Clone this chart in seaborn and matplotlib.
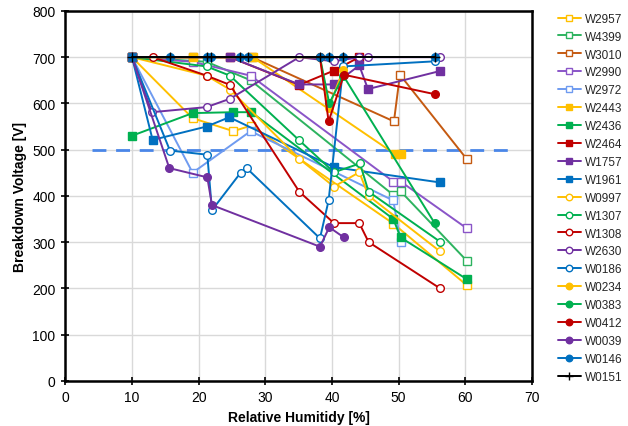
import matplotlib
matplotlib.use("Agg")
import matplotlib.pyplot as plt
import seaborn as sns
import pandas as pd

sns.set_theme(style="white")
plt.rcParams['font.family'] = ['Liberation Sans', 'DejaVu Sans']

names = ["W2957", "W4399", "W3010", "W2990", "W2972", "W2443", "W2436", "W2464",
         "W1757", "W1961", "W0997", "W1307", "W1308", "W2630", "W0186", "W0234",
         "W0383", "W0412", "W0039", "W0146", "W0151"]

x_W2957 = [10, 19.1, 25.2, 27.9, 49.2, 60.2]
y_W2957 = [700, 568, 540, 552, 340, 207]
x_W4399 = [10, 21.2, 27.8, 49.2, 50.3, 60.2]
y_W4399 = [700, 690, 650, 402, 410, 260]
x_W3010 = [10, 19.1, 28.0, 49.3, 50.2, 60.2]
y_W3010 = [700, 700, 700, 561, 662, 480]
x_W2990 = [10, 19.1, 27.8, 49.2, 50.3, 60.2]
y_W2990 = [700, 690, 660, 431, 431, 330]
x_W2972 = [10, 19.1, 27.8, 49.2, 50.3]
y_W2972 = [700, 450, 540, 390, 300]
x_W2443 = [10, 19.1, 28.1, 49.5, 50.3]
y_W2443 = [700, 700, 700, 490, 490]
x_W2436 = [10, 19.1, 25.2, 27.9, 49.2, 50.3, 60.2]
y_W2436 = [530, 579, 581, 581, 350, 310, 220]
x_W2464 = [10, 24.7, 35.1, 40.3, 44.1]
y_W2464 = [700, 700, 640, 671, 700]
x_W1757 = [10, 24.7, 35.1, 40.3, 44.1, 45.4, 56.2]
y_W1757 = [700, 700, 641, 641, 682, 631, 670]
x_W1961 = [10, 13.1, 21.2, 24.6, 40.3, 56.2]
y_W1961 = [700, 521, 550, 570, 462, 429]
x_W0997 = [10, 21.2, 24.7, 35.1, 40.3, 44.1, 45.5, 56.2]
y_W0997 = [700, 660, 630, 480, 420, 451, 400, 280]
x_W1307 = [10, 21.2, 24.7, 35.1, 40.3, 44.2, 45.5, 56.2]
y_W1307 = [700, 680, 660, 520, 451, 470, 409, 301]
x_W1308 = [10, 13.1, 21.2, 24.7, 35.1, 40.3, 44.1, 45.5, 56.2]
y_W1308 = [700, 700, 660, 640, 409, 341, 341, 300, 200]
x_W2630 = [10, 13.0, 21.2, 24.7, 35.1, 40.3, 44.1, 45.4, 56.2]
y_W2630 = [700, 581, 592, 610, 700, 691, 700, 700, 700]
x_W0186 = [10, 15.7, 21.3, 22.0, 26.3, 27.2, 38.2, 39.5, 41.7, 55.4]
y_W0186 = [700, 498, 489, 369, 450, 460, 308, 390, 680, 691]
x_W0234 = [10, 38.2, 39.5, 41.7]
y_W0234 = [700, 700, 590, 673]
x_W0383 = [10, 38.2, 39.6, 41.7, 55.4]
y_W0383 = [700, 700, 600, 660, 341]
x_W0412 = [10, 38.2, 39.5, 41.8, 55.4]
y_W0412 = [700, 700, 561, 662, 620]
x_W0039 = [10, 15.6, 21.3, 22.0, 38.2, 39.6, 41.8]
y_W0039 = [700, 460, 440, 380, 290, 332, 310]
x_W0146 = [10, 15.7, 21.2, 21.9, 26.2, 27.4, 38.2, 39.5, 41.7, 55.4]
y_W0146 = [700, 700, 700, 700, 700, 700, 700, 700, 700, 700]
x_W0151 = [10, 15.7, 21.2, 21.9, 26.2, 27.4, 38.2, 39.5, 41.7, 55.4]
y_W0151 = [700, 700, 700, 700, 700, 700, 700, 700, 700, 700]

threshold_x = [4, 67]
threshold_y = [500, 500]

gold, green, orange, lblue = "#FFC000", "#00B050", "#C55A11", "#6F9BF0"
red, blue, purple = "#C00000", "#0070C0", "#7030A0"
styles = {
    "W2957": (gold, "s", False), "W4399": ("#2DB35F", "s", False),
    "W3010": (orange, "s", False), "W2990": ("#8A55C8", "s", False),
    "W2972": (lblue, "s", False), "W2443": (gold, "s", True),
    "W2436": (green, "s", True), "W2464": (red, "s", True),
    "W1757": (purple, "s", True), "W1961": (blue, "s", True),
    "W0997": (gold, "o", False), "W1307": (green, "o", False),
    "W1308": (red, "o", False), "W2630": (purple, "o", False),
    "W0186": (blue, "o", False), "W0234": (gold, "o", True),
    "W0383": (green, "o", True), "W0412": (red, "o", True),
    "W0039": (purple, "o", True), "W0146": (blue, "o", True),
    "W0151": ("black", "+", True),
}

fig = plt.figure(figsize=(6.28, 4.27), dpi=100)
ax = fig.add_axes([0.104, 0.106, 0.743, 0.866])

g = globals()
for n in names:
    col, mk, filled = styles[n]
    df = pd.DataFrame({"x": g["x_" + n], "y": g["y_" + n]})
    kw = dict(color=col, marker=mk, markersize=5.5 if mk != "+" else 7,
              markeredgecolor=col, markeredgewidth=1.0,
              markerfacecolor=(col if filled else "white"), linewidth=1.4)
    sns.lineplot(data=df, x="x", y="y", sort=False, estimator=None, ax=ax,
                 label=n, **kw)

ax.plot(threshold_x, threshold_y, color="#4A86E8", linestyle=(0, (5, 3.5)),
        linewidth=2, zorder=1)

ax.set_xlim(0, 70)
ax.set_ylim(0, 800)
ax.set_xticks(range(0, 71, 10))
ax.set_yticks(range(0, 801, 100))
ax.grid(True, color="#D9D9D9", linewidth=1)
ax.set_axisbelow(True)
for s in ax.spines.values():
    s.set_color("black")
    s.set_linewidth(1.8)
ax.tick_params(axis="both", direction="inout", length=6, width=1.2, colors="black",
               labelsize=10, left=True, bottom=True, pad=4)
ax.set_xlabel("Relative Humitidy [%]", fontsize=10, fontweight="bold", color="black")
ax.set_ylabel("Breakdown Voltage [V]", fontsize=10, fontweight="bold", color="black")

leg = ax.legend(loc="upper left", bbox_to_anchor=(1.045, 1.008), frameon=False,
                fontsize=8.5, labelspacing=0.5, handlelength=2.0,
                handletextpad=0.3, borderaxespad=0, markerscale=0.85)

fig.savefig("out.png", dpi=100)
